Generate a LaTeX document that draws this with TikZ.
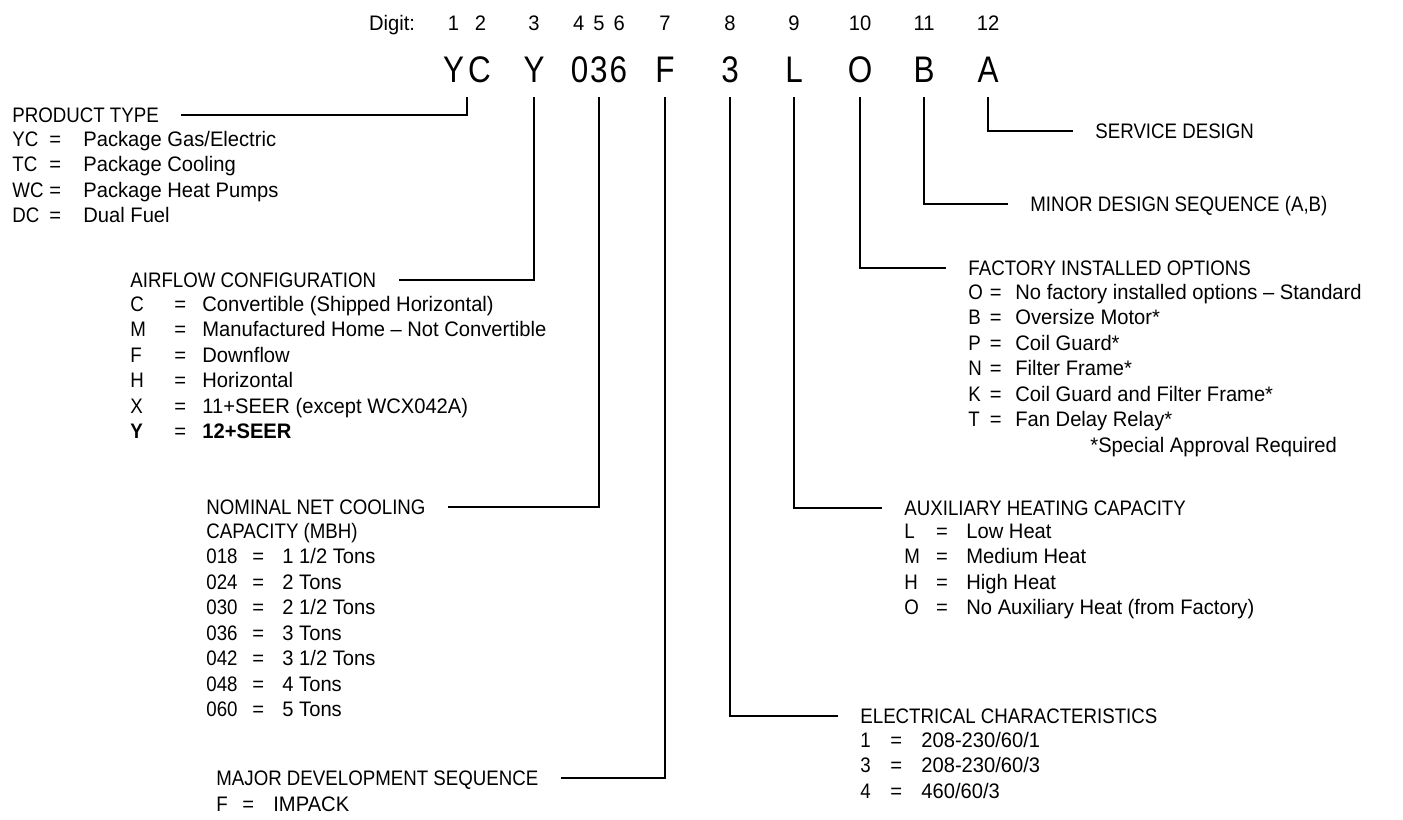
\documentclass[tikz,border=0pt]{standalone}
\usepackage{fontspec}
\setmainfont{Liberation Sans}[FakeStretch=0.96]
\newfontfamily\capsfont{Liberation Sans}[FakeStretch=0.89]
\newfontfamily\codefont{Liberation Sans}[FakeStretch=0.85]
\usetikzlibrary{positioning}

\newlength{\codewd}
\newlength{\eqwd}
\newcommand{\kv}[2]{\makebox[\codewd][l]{\capsfont #1}\makebox[\eqwd][l]{=}#2}

\begin{document}
\begin{tikzpicture}[
		x=0.5pt, y=-0.5pt,
		letter/.style={inner sep=0pt, anchor=base, text height=13.2pt, text depth=0pt, font=\codefont\fontsize{18.5}{20}\selectfont},
		digit/.style={inner sep=0pt, text height=7.6pt, text depth=0pt, font=\fontsize{10.5}{12.75}\selectfont},
		heading/.style={inner sep=0pt, anchor=base west, text height=7.5pt, text depth=0pt, font=\capsfont\fontsize{10.5}{12.75}\selectfont},
		list/.style={inner sep=0pt, align=left, font=\fontsize{10.5}{12.75}\selectfont, execute at begin node=\strut},
		cols/.style 2 args={execute at begin node={\setlength{\codewd}{#1}\setlength{\eqwd}{#2}}},
		leader/.style={line width=0.8pt, shorten <=7.5pt, shorten >=11pt}
		]
		
		\path[fill=white] (0,0) rectangle (1403,813);
		
		% Model number
		\node[letter] (cYC) at (467,82) {Y\hspace{2pt}C};
		\node[letter] (cY) at (534,82) {Y};
		\node[letter] (c036) at (599,82) {0\hspace{1pt}3\hspace{1pt}6};
		\node[letter] (cF) at (665,82) {F};
		\node[letter] (c3) at (730,82) {3};
		\node[letter] (cL) at (794,82) {L};
		\node[letter] (cO) at (860,82) {O};
		\node[letter] (cB) at (924,82) {B};
		\node[letter] (cA) at (988,82) {A};
		
		% Digit numbers
		\node[digit, above=12.25pt of cYC] (nYC) {1\hspace{8pt}2};
		\node[digit, left=16pt of nYC] (ndigit) {Digit:};
		\node[digit, above=12.25pt of cY] (nY) {3};
		\node[digit, above=12.25pt of c036] (n036) {4\hspace{4.5pt}5\hspace{4.5pt}6};
		\node[digit, above=12.25pt of cF] (nF) {7};
		\node[digit, above=12.25pt of c3] (n3) {8};
		\node[digit, above=12.25pt of cL] (nL) {9};
		\node[digit, above=12.25pt of cO] (nO) {10};
		\node[digit, above=12.25pt of cB] (nB) {11};
		\node[digit, above=12.25pt of cA] (nA) {12};
		
		% Left groups
		\node[heading] (ptype) at (12,122.5) {PRODUCT TYPE};
		\node[list, cols={18.5pt}{17pt}, below=3.8pt of ptype.south west, anchor=north west] (ptypelist) {\kv{YC}{Package Gas/Electric}\\
			\kv{TC}{Package Cooling}\\
			\kv{WC}{Package Heat Pumps}\\
			\kv{DC}{Dual Fuel}};
		
		\node[heading] (air) at (130,287.5) {AIRFLOW CONFIGURATION};
		\node[list, cols={22pt}{14pt}, below=3.8pt of air.south west, anchor=north west] (airlist) {\kv{C}{Convertible (Shipped Horizontal)}\\
			\kv{M}{Manufactured Home – Not Convertible}\\
			\kv{F}{Downflow}\\
			\kv{H}{Horizontal}\\
			\kv{X}{11+SEER (except WCX042A)}\\
			\kv{\textbf{Y}}{\textbf{12+SEER}}};
		
		\node[heading] (nominal) at (206,514.5) {NOMINAL NET COOLING};
		\node[list, cols={23pt}{15pt}, below=3.8pt of nominal.south west, anchor=north west] (nominallist) {{\capsfont CAPACITY (MBH)}\\
			\kv{018}{1 1/2 Tons}\\
			\kv{024}{2 Tons}\\
			\kv{030}{2 1/2 Tons}\\
			\kv{036}{3 Tons}\\
			\kv{042}{3 1/2 Tons}\\
			\kv{048}{4 Tons}\\
			\kv{060}{5 Tons}};
		
		\node[heading] (major) at (216,785.5) {MAJOR DEVELOPMENT SEQUENCE};
		\node[list, cols={13pt}{15.5pt}, below=3.8pt of major.south west, anchor=north west] (majorlist) {\kv{F}{IMPACK}};
		
		% Right groups
		\node[heading] (service) at (1095,138.5) {SERVICE DESIGN};
		\node[heading] (minor) at (1030,211.5) {MINOR DESIGN SEQUENCE (A,B)};
		
		\node[heading] (factory) at (968,275.5) {FACTORY INSTALLED OPTIONS};
		\node[list, cols={10.75pt}{12.75pt}, below=3.8pt of factory.south west, anchor=north west] (factorylist) {\kv{O}{No factory installed options – Standard}\\
			\kv{B}{Oversize Motor*}\\
			\kv{P}{Coil Guard*}\\
			\kv{N}{Filter Frame*}\\
			\kv{K}{Coil Guard and Filter Frame*}\\
			\kv{T}{Fan Delay Relay*}\\
			\hspace*{61pt}*Special Approval Required};
		
		\node[heading] (aux) at (904,515.5) {AUXILIARY HEATING CAPACITY};
		\node[list, cols={15.8pt}{15.2pt}, below=3.8pt of aux.south west, anchor=north west] (auxlist) {\kv{L}{Low Heat}\\
			\kv{M}{Medium Heat}\\
			\kv{H}{High Heat}\\
			\kv{O}{No Auxiliary Heat (from Factory)}};
		
		\node[heading] (elec) at (860,723.5) {ELECTRICAL CHARACTERISTICS};
		\node[list, cols={15pt}{15.5pt}, below=3.8pt of elec.south west, anchor=north west] (eleclist) {\kv{1}{208-230/60/1}\\
			\kv{3}{208-230/60/3}\\
			\kv{4}{460/60/3}};
		
		% Leaders
		\draw[leader] (cYC.south) |- (ptype.east);
		\draw[leader] (cY.south) |- (air.east);
		\draw[leader] (c036.south) |- (nominal.east);
		\draw[leader] (cF.south) |- (major.east);
		\draw[leader] (c3.south) |- (elec.west);
		\draw[leader] (cL.south) |- (aux.west);
		\draw[leader] (cO.south) |- (factory.west);
		\draw[leader] (cB.south) |- (minor.west);
		\draw[leader] (cA.south) |- (service.west);
		
	\end{tikzpicture}
\end{document}
